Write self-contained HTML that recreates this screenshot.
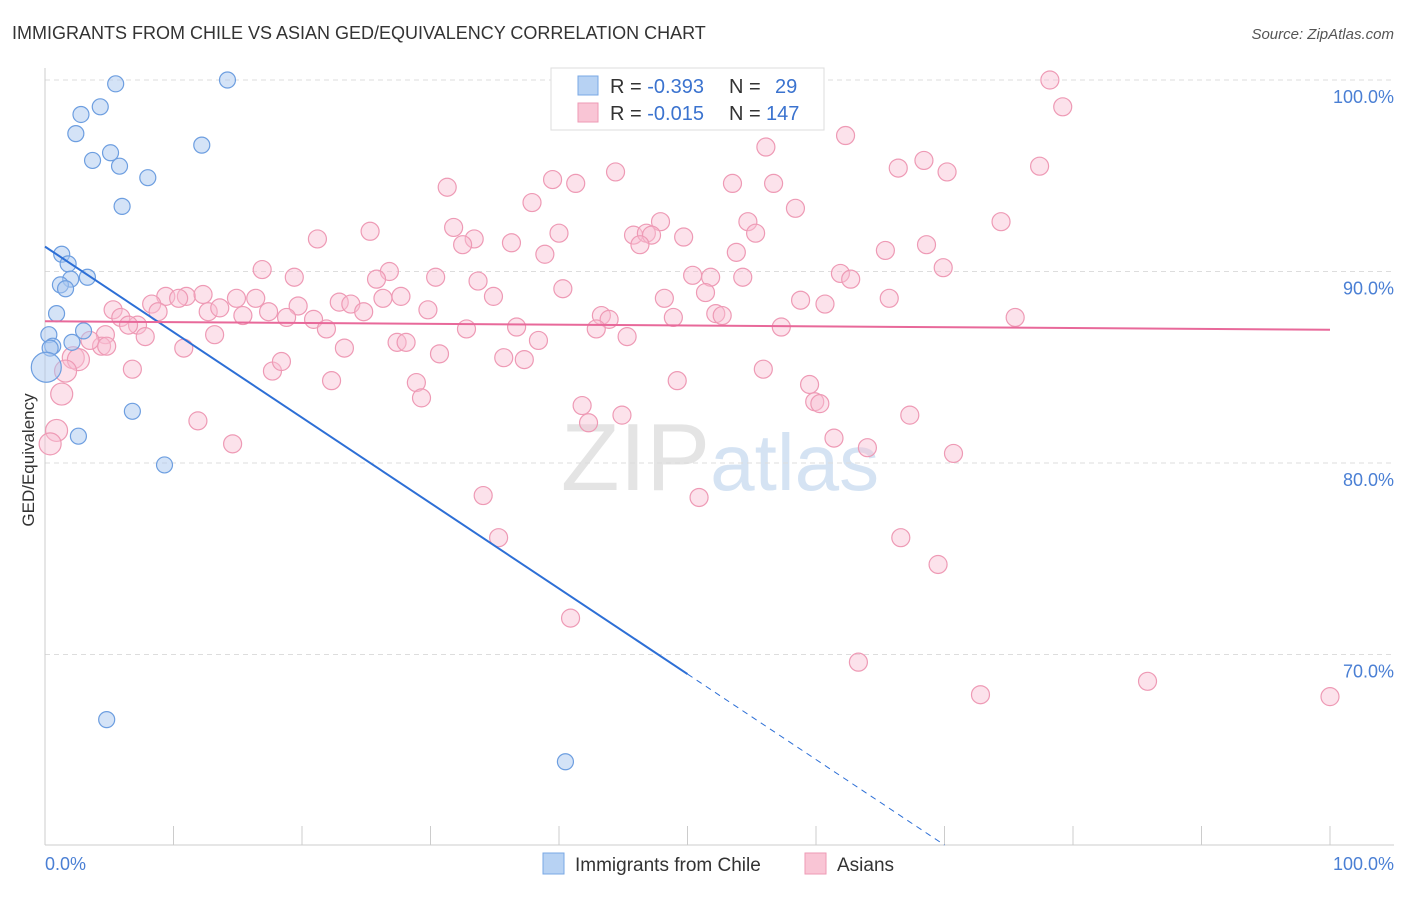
<!DOCTYPE html>
<html><head><meta charset="utf-8"><style>
body{margin:0;background:#fff;font-family:"Liberation Sans",sans-serif;}
svg text{font-family:"Liberation Sans",sans-serif;}
</style></head><body>
<svg id="c" width="1406" height="892" xmlns="http://www.w3.org/2000/svg">
<text x="12" y="39" font-size="18" fill="#333">IMMIGRANTS FROM CHILE VS ASIAN GED/EQUIVALENCY CORRELATION CHART</text>
<text x="1394" y="39" font-size="15" fill="#555" text-anchor="end" font-style="italic">Source: ZipAtlas.com</text>
<text x="720" y="490" font-size="96" fill="#e4e4e4" text-anchor="middle" font-family="Liberation Serif">ZIP<tspan fill="#d5e3f3" font-family="Liberation Sans" font-size="80">atlas</tspan></text>
<g id="grid"></g>
<g id="pts"></g>
<g id="lines"></g>
<text transform="translate(34,460) rotate(-90)" font-size="17" fill="#333" text-anchor="middle">GED/Equivalency</text>
<text x="45" y="870" font-size="18" fill="#4a7fd4">0.0%</text>
<text x="1394" y="870" font-size="18" fill="#4a7fd4" text-anchor="end">100.0%</text>
<g>
<rect x="551" y="68" width="273" height="62" fill="#fff" stroke="#ddd"/>
<rect x="578" y="76" width="20" height="19" fill="#b7d2f3" stroke="#7aa8e4"/>
<rect x="578" y="103" width="20" height="19" fill="#f9c5d5" stroke="#ee9ab5"/>
<text x="610" y="93" font-size="20" fill="#333">R = <tspan fill="#3b73cf">-0.393</tspan><tspan x="729">N = </tspan><tspan x="775" fill="#3b73cf">29</tspan></text>
<text x="610" y="120" font-size="20" fill="#333">R = <tspan fill="#3b73cf">-0.015</tspan><tspan x="729">N = </tspan><tspan x="766" fill="#3b73cf">147</tspan></text>
</g>
<g>
<rect x="543" y="853" width="21" height="21" fill="#b7d2f3" stroke="#7aa8e4"/>
<text x="575" y="871" font-size="19" fill="#333">Immigrants from Chile</text>
<rect x="805" y="853" width="21" height="21" fill="#f9c5d5" stroke="#ee9ab5"/>
<text x="837" y="871" font-size="19" fill="#333">Asians</text>
</g>
</svg>
<script>
const yTicks=[100,90,80,70];
const yTickLabels=["100.0%","90.0%","80.0%","70.0%"];
const xTicks=[0,10,20,30,40,50,60,70,80,90,100];
const chileX=[5.5,14.2,4.3,2.8,2.4,5.1,3.7,5.8,12.2,8.0,6.0,1.3,1.8,3.3,2.0,1.2,1.6,0.9,3.0,2.1,0.3,0.6,0.4,6.8,2.6,9.3,4.8,40.5,0.1];
const chileY=[99.8,100,98.6,98.2,97.2,96.2,95.8,95.5,96.6,94.9,93.4,90.9,90.4,89.7,89.6,89.3,89.1,87.8,86.9,86.3,86.7,86.1,86.0,82.7,81.4,79.9,66.6,64.4,85.0];
const asianX=[78.2,79.2,62.3,56.1,66.4,68.4,70.2,77.4,44.4,39.5,41.3,31.3,53.5,56.7,37.9,58.4,74.4,31.8,54.7,47.9,45.8,46.8,47.2,55.3,49.7,25.3,21.2,33.4,32.5,36.3,40.0,38.9,46.3,53.8,65.4,68.6,16.9,26.8,19.4,25.8,30.4,33.7,50.4,51.8,54.3,61.9,62.7,69.9,40.3,51.4,9.4,11.0,12.3,10.4,14.9,16.4,27.7,26.3,34.9,48.2,58.8,60.7,65.7,8.3,8.8,12.7,13.6,15.4,17.4,19.7,22.9,23.8,24.8,29.8,18.8,20.9,5.3,5.9,7.2,6.5,7.8,4.7,4.4,3.5,4.8,13.2,21.9,32.8,36.7,38.4,43.3,43.9,42.9,45.3,48.9,52.2,52.7,57.3,75.5,10.8,23.3,27.4,28.1,30.7,35.7,37.3,2.2,2.6,6.8,17.7,18.4,22.3,28.9,29.3,49.2,55.9,59.5,59.9,60.3,41.8,42.3,44.9,67.3,11.9,14.6,61.4,64.0,70.7,34.1,50.9,35.3,66.6,69.5,40.9,63.3,72.8,85.8,100,1.3,1.6,0.9,0.4];
const asianY=[100.0,98.6,97.1,96.5,95.4,95.8,95.2,95.5,95.2,94.8,94.6,94.4,94.6,94.6,93.6,93.3,92.6,92.3,92.6,92.6,91.9,92.0,91.9,92.0,91.8,92.1,91.7,91.7,91.4,91.5,92.0,90.9,91.4,91.0,91.1,91.4,90.1,90.0,89.7,89.6,89.7,89.5,89.8,89.7,89.7,89.9,89.6,90.2,89.1,88.9,88.7,88.7,88.8,88.6,88.6,88.6,88.7,88.6,88.7,88.6,88.5,88.3,88.6,88.3,87.9,87.9,88.1,87.7,87.9,88.2,88.4,88.3,87.9,88.0,87.6,87.5,88.0,87.6,87.2,87.2,86.6,86.7,86.1,86.4,86.1,86.7,87.0,87.0,87.1,86.4,87.7,87.5,87.0,86.6,87.6,87.8,87.7,87.1,87.6,86.0,86.0,86.3,86.3,85.7,85.5,85.4,85.5,85.4,84.9,84.8,85.3,84.3,84.2,83.4,84.3,84.9,84.1,83.2,83.1,83.0,82.1,82.5,82.5,82.2,81.0,81.3,80.8,80.5,78.3,78.2,76.1,76.1,74.7,71.9,69.6,67.9,68.6,67.8,83.6,84.8,81.7,81.0];
const chileFit=[91.3,60.05];
const asianFit=[87.4,86.96];
const NS="http://www.w3.org/2000/svg";
const X=v=>45+v*12.85, Y=v=>80+(100-v)*19.15;
function mk(tag,attrs,parent){const e=document.createElementNS(NS,tag);for(const k in attrs)e.setAttribute(k,attrs[k]);parent.appendChild(e);return e;}
const grid=document.getElementById('grid'),pts=document.getElementById('pts'),lines=document.getElementById('lines');
yTicks.forEach((t,i)=>{
 const l=mk('line',{x1:45,x2:1394,y1:Y(t),y2:Y(t),stroke:'#ddd','stroke-dasharray':'5,4'},grid);
 
 
 const tx=mk('text',{x:1394,y:Y(t)+23,'font-size':18,fill:'#4a7fd4','text-anchor':'end'},grid);
 tx.textContent=yTickLabels[i];
 
 
});
const ax=mk('line',{x1:45,x2:45,y1:68,y2:845,stroke:'#ccc'},grid);


const bx=mk('line',{x1:45,x2:1394,y1:845,y2:845,stroke:'#ccc'},grid);


xTicks.forEach(t=>{
 const l=mk('line',{x1:X(t),x2:X(t),y1:826,y2:845,stroke:'#ccc'},grid);
 
 
});
asianX.forEach((v,i)=>{
 const r=(v<3)?11:9;
 const c=mk('circle',{cx:X(v),cy:Y(asianY[i]),r:r,fill:'rgba(249,190,210,0.45)',stroke:'#ee9ab5','stroke-width':1.2},pts);
 
 
});
chileX.forEach((v,i)=>{
 const r=(v<0.2)?15:8;
 const c=mk('circle',{cx:X(v),cy:Y(chileY[i]),r:r,fill:'rgba(170,200,240,0.5)',stroke:'#6d9ee0','stroke-width':1.2},pts);
 
 
});
const cy=x=>chileFit[0]+(chileFit[1]-chileFit[0])*(x/70);
const l1=mk('line',{x1:X(0),y1:Y(cy(0)),x2:X(50),y2:Y(cy(50)),stroke:'#2d6fd6','stroke-width':2},lines);


const l2=mk('line',{x1:X(50),y1:Y(cy(50)),x2:X(70),y2:Y(cy(70)),stroke:'#2d6fd6','stroke-width':1,'stroke-dasharray':'6,5'},lines);


const l3=mk('line',{x1:X(0),y1:Y(asianFit[0]),x2:X(100),y2:Y(asianFit[1]),stroke:'#e8699a','stroke-width':2},lines);


</script>
</body></html>
